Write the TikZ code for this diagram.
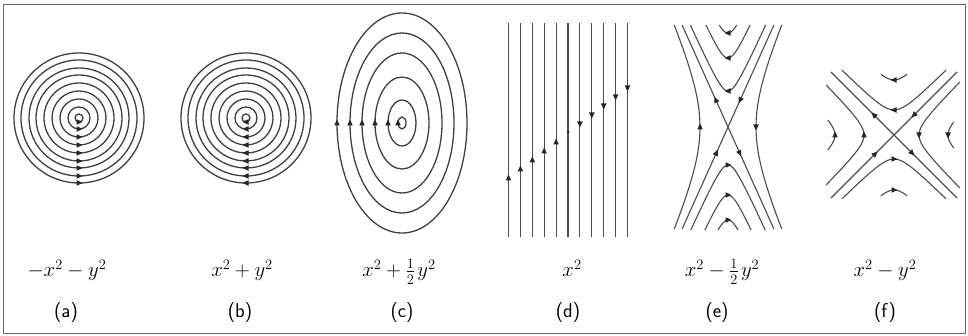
\documentclass[tikz,border=0pt]{standalone}
\usepackage{amsmath}
\usepackage{tikz}
\newcommand{\tip}[3]{% x, y, direction (degrees)   (small filled flow arrow)
  \fill[black!85,shift={({#1},{#2})},rotate=#3] (3.5,0) -- (-2.5,2.8) -- (-2.5,-2.8) -- cycle;}
\tikzset{
  ring/.style={draw=black!75,line width=1.3pt},
  curve/.style={draw=black!70,line width=1.1pt},
  formula/.style={font=\fontsize{22}{26}\selectfont,anchor=base,inner sep=0pt},
  tag/.style={font=\sffamily\fontsize{20}{24}\selectfont,anchor=base,inner sep=0pt}}

\begin{document}
\begin{tikzpicture}[x=1pt,y=-1pt]
  \useasboundingbox (0,0) rectangle (968,336);
  \draw[black!60,line width=1pt] (3,5) rectangle (965,333);
  % (a), (b) concentric circles
  \foreach \r in {4,11,19,27,35,43,50,58,65} {
    \draw[ring] (79,118) circle (\r);
    \tip{79}{118+\r}{0}
    \draw[ring] (246,118) circle (\r);
    \tip{246}{118+\r}{180}
  }
  % (c) ellipses
  \foreach \a/\b in {65/110,52/90,40/70,27/46,14/23,4/6} {
    \draw[ring] (402,123) ellipse [x radius=\a,y radius=\b];
    \tip{402-\a}{123}{90}
  }
  % (d) vertical lines
  \foreach \i in {0,...,10} {
    \draw[curve] ({508.5+11.9*\i},23) -- ({508.5+11.9*\i},237);
  }
  \foreach \i in {0,...,4} {\tip{508.5+11.9*\i}{133-9*(\i-5)}{90}}
  \foreach \i in {6,...,10} {\tip{508.5+11.9*\i}{133-9*(\i-5)}{270}}
  \fill[black!85] (568,132) circle (1.5);
  % (e) saddle, x^2 - y^2/2
  \begin{scope}[shift={(728,127)}]
    \draw[curve] (-45.9,-102) -- (45.9,102);
    \draw[curve] (45.9,-102) -- (-45.9,102);
    \draw[curve] plot[domain=-102:102,samples=50] ({-sqrt(784+(0.45*\x)^2)},\x);
    \draw[curve] plot[domain=-102:102,samples=50] ({sqrt(784+(0.45*\x)^2)},\x);
    \foreach \d in {36,69,94} {
      \pgfmathsetmacro\um{0.45*sqrt((122-\d)^2-400)}
      \draw[curve] plot[domain=-\um:\um,samples=40] (\x,{-(\d-20+sqrt(400+(\x/0.45)^2))});
      \tip{0}{-\d}{180}
    }
    \foreach \d in {38,68,93} {
      \pgfmathsetmacro\um{0.45*sqrt((123-\d)^2-400)}
      \draw[curve] plot[domain=-\um:\um,samples=40] (\x,{\d-20+sqrt(400+(\x/0.45)^2)});
      \tip{0}{\d}{0}
    }
    \tip{-28}{0}{90}
    \tip{28}{0}{270}
    \tip{-12.2}{-27}{114.2}
    \tip{12.2}{-27}{245.8}
    \tip{-11.7}{26}{65.8}
    \tip{11.7}{26}{294.2}
  \end{scope}
  % (f) saddle, x^2 - y^2
  \begin{scope}[shift={(894,135)}]
    \draw[curve] (-63,-63) -- (63,63);
    \draw[curve] (63,-63) -- (-63,63);
    \draw[curve] plot[domain=-52:52,samples=40] (\x,{-(11+sqrt(196+(\x)^2))});
    \draw[curve] plot[domain=-52:52,samples=40] (\x,{10+sqrt(196+(\x)^2)});
    \draw[curve] plot[domain=-50:50,samples=40] ({-(16+sqrt(196+(\x)^2))},\x);
    \draw[curve] plot[domain=-53:53,samples=40] ({11+sqrt(196+(\x)^2)},\x);
    \draw[curve] plot[domain=-13:13,samples=20] (\x,{-(43+sqrt(144+(\x)^2))});
    \draw[curve] plot[domain=-13:13,samples=20] (\x,{43+sqrt(144+(\x)^2)});
    \draw[curve] plot[domain=-15:15,samples=20] ({-(47+sqrt(144+(\x)^2))},\x);
    \draw[curve] plot[domain=-13:13,samples=20] ({42+sqrt(144+(\x)^2)},\x);
    \tip{0}{-25}{180}
    \tip{0}{24}{0}
    \tip{-30}{0}{90}
    \tip{25}{0}{270}
    \tip{0}{-55}{180}
    \tip{0}{55}{0}
    \tip{-59}{0}{90}
    \tip{54}{0}{270}
    \tip{-20}{-20}{135}
    \tip{20}{-20}{225}
    \tip{-19}{19}{45}
    \tip{18}{18}{315}
  \end{scope}
  % functions and panel tags
  \node[formula] (fa) at (67,277) {$-x^2-y^2$};
  \node[formula] (fb) at (242,277) {$x^2+y^2$};
  \node[formula] (fc) at (399,277) {$x^2+\tfrac12\mkern2mu y^2$};
  \node[formula] (fd) at (572,277) {$x^2$};
  \node[formula] (fe) at (722,277) {$x^2-\tfrac12\mkern2mu y^2$};
  \node[formula] (ff) at (885,277) {$x^2-y^2$};
  \node[tag] (ta) at (66,317) {(a)};
  \node[tag] (tb) at (240,317) {(b)};
  \node[tag] (tc) at (402,317) {(c)};
  \node[tag] (td) at (568,317) {(d)};
  \node[tag] (te) at (717,317) {(e)};
  \node[tag] (tf) at (885,317) {(f)};
\end{tikzpicture}
\end{document}
